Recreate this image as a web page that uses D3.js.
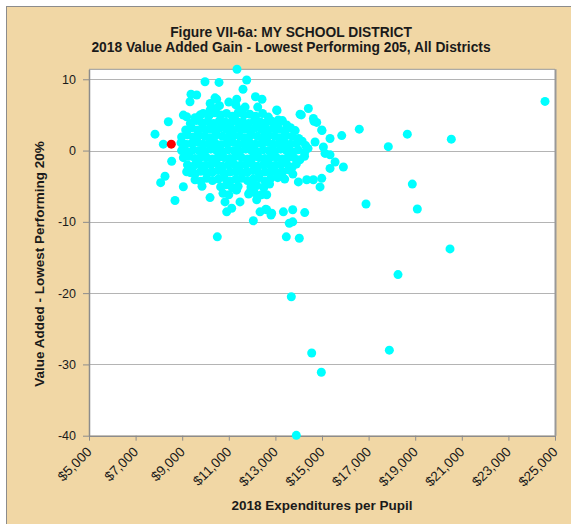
<!DOCTYPE html>
<html><head><meta charset="utf-8">
<script src="https://cdn.jsdelivr.net/npm/d3@7"></script>
<style>
body{margin:0;background:#fff}
text{font-family:Arial,"Liberation Sans",sans-serif;fill:#1a1a1a}
</style>
</head><body>
<svg id="chart" width="571" height="524"></svg>
<script>
const titleLines = ["Figure VII-6a: MY SCHOOL DISTRICT", "2018 Value Added Gain - Lowest Performing 205, All Districts"];
const xAxisTitle = "2018 Expenditures per Pupil";
const yAxisTitle = "Value Added - Lowest Performing 20%";
const xTicks = [5000, 7000, 9000, 11000, 13000, 15000, 17000, 19000, 21000, 23000, 25000];
const yTicks = [10, 0, -10, -20, -30, -40];
const yGrid = [10, 0, -10, -20, -30];

// [expenditure per pupil, value added] for every district
const districts = [
  // dense core
  [10200,6.6],[10600,6.3],[11000,6.8],[11300,6.4],[11700,6.1],[10450,5.9],[11500,5.7],
  [9550,4.6],[9900,5.2],[10150,4.9],[10400,5.3],[10650,5.0],[10900,5.2],[11150,4.8],[11400,5.3],[11650,5.0],[11900,5.1],[12150,4.8],[12450,5.2],[12700,4.7],
  [9350,3.8],[9600,4.2],[9850,3.9],[10100,4.1],[10350,3.8],[10600,4.2],[10850,4.0],[11100,3.9],[11350,4.1],[11600,4.0],[11850,3.8],[12100,4.2],[12350,4.0],[12600,3.9],[12850,4.1],[13100,3.7],[13300,4.2],
  [9150,2.9],[9400,3.2],[9650,2.9],[9900,3.1],[10150,3.0],[10400,2.8],[10650,3.2],[10900,3.0],[11150,2.9],[11400,3.1],[11650,3.0],[11900,2.8],[12150,3.2],[12400,3.0],[12650,2.9],[12900,3.1],[13150,3.0],[13400,2.7],[13650,3.2],[13850,2.8],
  [8975,1.9],[9225,2.2],[9475,1.9],[9725,2.1],[9975,2.0],[10225,1.8],[10475,2.2],[10725,2.0],[10975,1.9],[11225,2.1],[11475,2.0],[11725,1.8],[11975,2.2],[12225,2.0],[12475,1.9],[12725,2.1],[12975,2.0],[13225,1.8],[13475,2.1],[13725,2.0],[14000,1.7],
  [8950,1.1],[9150,0.9],[9400,1.0],[9650,1.2],[9900,0.9],[10150,1.0],[10400,1.1],[10650,0.8],[10900,1.0],[11150,1.2],[11400,0.9],[11650,1.0],[11900,1.1],[12150,0.9],[12400,1.0],[12650,1.2],[12900,0.9],[13150,1.0],[13400,1.1],[13650,0.9],[13900,1.0],[14150,1.3],[14300,0.7],
  [8975,0.0],[9225,-0.2],[9475,0.1],[9725,0.0],[9975,-0.1],[10225,0.2],[10475,0.0],[10725,-0.2],[10975,0.1],[11225,0.0],[11475,-0.1],[11725,0.2],[11975,0.0],[12225,-0.2],[12475,0.1],[12725,0.0],[12975,-0.1],[13225,0.2],[13475,0.0],[13725,-0.2],[13975,0.1],[14250,-0.3],[14400,0.3],
  [9050,-1.0],[9300,-0.8],[9550,-1.1],[9800,-0.9],[10050,-1.0],[10300,-1.2],[10550,-0.9],[10800,-1.0],[11050,-1.1],[11300,-0.8],[11550,-1.0],[11800,-1.2],[12050,-0.9],[12300,-1.0],[12550,-1.1],[12800,-0.9],[13050,-1.0],[13300,-1.2],[13550,-0.9],[13800,-1.0],[14050,-1.3],[14250,-0.8],
  [9225,-2.0],[9475,-2.2],[9725,-1.9],[9975,-2.1],[10225,-2.0],[10475,-1.8],[10725,-2.2],[10975,-2.0],[11225,-1.9],[11475,-2.1],[11725,-2.0],[11975,-1.8],[12225,-2.2],[12475,-2.0],[12725,-1.9],[12975,-2.1],[13225,-2.0],[13475,-1.8],[13725,-2.3],[13900,-1.9],
  [9350,-3.1],[9550,-3.3],[9800,-2.9],[10050,-3.1],[10300,-3.0],[10550,-2.8],[10800,-3.2],[11050,-3.0],[11300,-2.9],[11550,-3.1],[11800,-3.0],[12050,-2.8],[12300,-3.2],[12550,-3.0],[12800,-2.9],[13050,-3.1],[13300,-3.0],[13550,-2.7],[13750,-3.3],
  [9550,-4.1],[9800,-4.3],[10050,-3.9],[10300,-4.2],[10550,-4.0],[10800,-3.8],[11050,-4.3],[11300,-4.0],[11550,-3.9],[11800,-4.2],[12050,-4.0],[12300,-3.8],[12550,-4.3],[12800,-3.9],[13100,-3.8],[13400,-4.0],
  [9850,-5.0],[10650,-5.1],[10900,-4.8],[11150,-5.2],[11400,-5.0],[11950,-5.1],[12200,-4.9],[12500,-5.2],[12750,-4.7],
  [10750,-6.0],[11000,-6.2],[11850,-6.1],[12100,-5.9],[12400,-6.2],
  // upper scatter
  [11352,11.4],[9979,9.65],[10580,9.56],[11768,9.9],[11610,8.6],[9378,7.9],[9622,7.8],[9335,6.85],[10408,7.4],[10480,7.2],
  [11339,7.2],[12144,7.55],[12425,7.2],[12241,6.1],[11537,5.6],[13069,5.6],[13056,5.7],[9764,4.98],[9192,4.75],[10194,5.68],[9049,4.98],
  // left scatter
  [7833,2.3],[8190,0.9],[8405,4.05],[8548,-1.5],[8262,-3.6],[8076,-4.5],[8691,-7.0],[9049,-5.07],[9192,-2.97],[10194,-6.6],
  // lower scatter
  [10838,-7.2],[10909,-8.6],[11124,-8.1],[11339,-5.5],[11482,-7.2],[11911,-5.8],[12197,-6.9],[12627,-6.2],[12340,-8.6],[12627,-8.3],
  [12841,-8.8],[13342,-8.6],[13743,-8.3],[13597,-10.2],[13743,-10.0],[14258,-8.7],[12052,-9.85],[12811,-9.05],[12584,-8.25],[11322,-5.54],
  [13468,-12.1],[14026,-12.3],[10507,-12.1],
  // right scatter
  [14058,5.1],[14415,5.9],[14630,4.5],[14773,3.95],[14988,2.9],[15345,1.7],[15846,2.1],[14702,1.2],[15059,0.5],[15131,-0.4],
  [15345,-0.6],[15560,-1.6],[15918,-2.3],[15345,-2.5],[14988,-3.9],[14916,-5.1],[14630,-4.1],[14344,-4.1],[13986,-4.4],[13485,3.6],
  [13127,4.3],[14657,4.1],[14112,5.0],[15000,2.8],
  // outliers
  [16600,3.0],[17846,0.55],[18662,2.3],[20550,1.6],[24571,6.9],[18876,-4.7],[19091,-8.2],[16889,-7.5],[20494,-13.8],[18262,-17.4],
  [13683,-20.5],[14558,-28.4],[17890,-28.0],[14971,-31.1],[13898,-39.95]
];
const myDistrict = [[8532, 0.9]];

const svg = d3.select("#chart");
const W = 571, H = 524;
const plot = {left: 89, right: 555, top: 69.3, bottom: 435.7};

// outer chart area
svg.append("rect").attr("x", 6.5).attr("y", 6.5).attr("width", W).attr("height", H)
  .attr("fill", "#F1D7A5").attr("stroke", "#8c8c8c").attr("stroke-width", 1);

const x = d3.scaleLinear().domain([5000, 25000]).range([plot.left, plot.right]);
const y = d3.scaleLinear().domain([-40, 11.4]).range([plot.bottom, plot.top]);

// plot area
svg.append("rect").attr("x", plot.left).attr("y", plot.top)
  .attr("width", plot.right - plot.left).attr("height", plot.bottom - plot.top)
  .attr("fill", "#fff");

// gridlines
svg.append("g").selectAll("line").data(yGrid).join("line")
  .attr("x1", plot.left).attr("x2", plot.right)
  .attr("y1", d => Math.round(y(d)) + 0.5).attr("y2", d => Math.round(y(d)) + 0.5)
  .attr("stroke", "#b4b4b4").attr("stroke-width", 1.2);

// plot border top/right
svg.append("line").attr("x1", plot.left).attr("x2", plot.right).attr("y1", plot.top).attr("y2", plot.top)
  .attr("stroke", "#999").attr("stroke-width", 1);
svg.append("line").attr("x1", plot.right + 0.5).attr("x2", plot.right + 0.5).attr("y1", plot.top).attr("y2", plot.bottom)
  .attr("stroke", "#999").attr("stroke-width", 2);

// axes
const yAxis = svg.append("g").attr("transform", `translate(${plot.left},0)`)
  .call(d3.axisLeft(y).tickValues(yTicks).tickSize(6).tickSizeOuter(0).tickPadding(7).tickFormat(d => String(d)));
const xAxis = svg.append("g").attr("transform", `translate(0,${plot.bottom})`)
  .call(d3.axisBottom(x).tickValues(xTicks).tickSize(5).tickSizeOuter(0).tickFormat(d => "$" + d3.format(",")(d)));
[yAxis, xAxis].forEach(a => {
  a.select(".domain").attr("stroke", "#8c8c8c").attr("stroke-width", 1.5);
  a.selectAll(".tick line").attr("stroke", "#8c8c8c");
  a.selectAll("text").attr("font-family", "Arial, 'Liberation Sans', sans-serif").attr("fill", "#1a1a1a");
});
yAxis.selectAll("text").attr("font-size", 12.5);
xAxis.selectAll(".tick text")
  .attr("font-size", 13.5)
  .attr("text-anchor", "end").attr("x", 3).attr("y", 17).attr("dy", 0)
  .attr("transform", "rotate(-45,3,17)");

// dots
const dots = svg.append("g");
dots.selectAll("circle.d").data(districts).join("circle").attr("class", "d")
  .attr("cx", d => x(d[0])).attr("cy", d => y(d[1])).attr("r", 4.5)
  .attr("fill", "#00FFFF");
dots.selectAll("circle.m").data(myDistrict).join("circle").attr("class", "m")
  .attr("cx", d => x(d[0])).attr("cy", d => y(d[1])).attr("r", 4.5)
  .attr("fill", "#FF0000");

// titles
svg.append("g").selectAll("text").data(titleLines).join("text")
  .attr("x", 291).attr("y", (d, i) => 36.5 + i * 15.5)
  .attr("text-anchor", "middle").attr("font-size", 13.8).attr("font-weight", "bold").text(d => d);
svg.append("text").attr("x", (plot.left + plot.right) / 2).attr("y", 510)
  .attr("text-anchor", "middle").attr("font-size", 13.5).attr("font-weight", "bold").text(xAxisTitle);
svg.append("text").attr("transform", "translate(43.5,264) rotate(-90)")
  .attr("text-anchor", "middle").attr("font-size", 13.5).attr("font-weight", "bold").text(yAxisTitle);
</script>
</body></html>
